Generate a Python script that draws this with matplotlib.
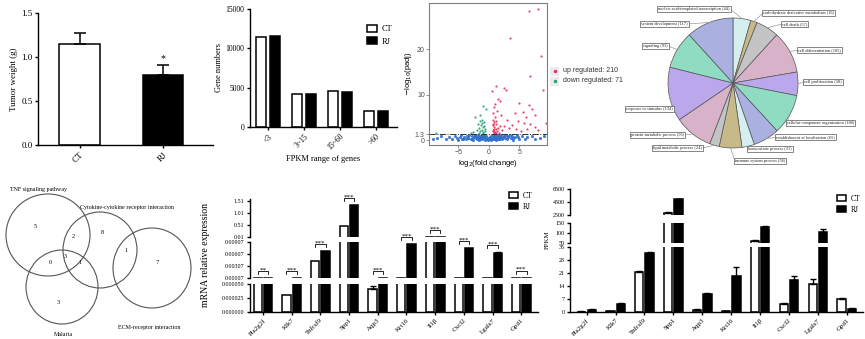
import matplotlib
matplotlib.use('Agg')

import matplotlib.pyplot as plt
from matplotlib.patches import Ellipse, Rectangle
import numpy as np

# ==========================================
# DATA
# ==========================================
tumor_groups = ["CT", "RJ"]
tumor_weight = [1.15, 0.80]
tumor_err = [0.12, 0.11]

fpkm_ranges = ["<3", "3~15", "15~60", ">60"]
genes_ct = [11400, 4250, 4600, 2000]
genes_rj = [11600, 4150, 4500, 2000]

up_fc = [6.5, 8.0, 3.5, 8.5, 6.8, 1.2, 2.5, 8.8, 0.5, 2.8, 1.5, 1.8, 1.0, 5.0, 6.5, 0.8,
         1.3, 4.2, 5.5, 7.0, 7.5, 6.0, 3.0, 2.0, 4.8, 5.8, 6.8, 3.8, 2.5, 7.5, 8.0, 4.5,
         5.2, 1.0, 0.7, 0.9, 1.1, 0.6, 0.8, 1.2, 0.7, 1.4, 0.9, 1.6, 2.2, 1.8, 0.6, 3.3,
         6.3, 9.3, 0.8, 1.0, 0.6, 1.2, 0.9, 0.7, 1.1, 1.5]
up_p = [28.5, 28.8, 22.5, 18.5, 14.0, 12.0, 11.5, 11.0, 10.7, 11.0, 9.0, 8.5, 8.0, 8.2, 7.8, 7.2,
        6.5, 6.0, 6.2, 6.8, 5.5, 5.0, 4.5, 5.5, 4.2, 3.8, 3.5, 3.2, 3.0, 2.8, 2.2, 2.5,
        2.0, 5.0, 4.5, 4.0, 3.5, 3.2, 2.8, 2.5, 2.2, 2.0, 1.8, 1.6, 2.2, 3.0, 6.0, 2.6,
        2.4, 3.8, 1.5, 1.7, 1.9, 1.6, 2.4, 3.6, 4.3, 2.7]
down_fc = [-1.0, -0.5, -1.5, -2.2, -1.2, -0.8, -1.8, -1.3, -0.9, -1.6, -1.1, -0.7, -2.0,
           -1.4, -0.9, -1.7, -2.6, -3.0, -8.7, -1.2, -0.8, -1.5, -1.0, -0.6]
down_p = [7.5, 6.8, 5.5, 5.0, 4.5, 4.0, 3.5, 3.2, 2.8, 2.6, 2.3, 2.0, 2.2,
          1.9, 1.7, 1.6, 1.8, 1.6, 1.6, 3.8, 3.0, 4.2, 1.5, 2.5]
ns_fc = [-9.2, -8.5, -7.8, -7.0, -6.5, -6.0, -5.5, -5.2, -5.0, -4.7, -4.5, -4.2, -4.0, -3.8,
         -3.6, -3.4, -3.2, -3.0, -2.8, -2.6, -2.5, -2.3, -2.1, -2.0, -1.9, -1.8, -1.7, -1.6,
         -1.5, -1.4, -1.3, -1.2, -1.1, -1.0, -0.9, -0.8, -0.7, -0.6, -0.5, -0.4, -0.3, -0.2,
         -0.1, 0.1, 0.2, 0.3, 0.4, 0.5, 0.6, 0.7, 0.8, 0.9, 1.0, 1.1, 1.2, 1.3, 1.4, 1.5,
         1.6, 1.7, 1.8, 1.9, 2.0, 2.2, 2.4, 2.6, 2.8, 3.0, 3.2, 3.4, 3.6, 3.8, 4.0, 4.3,
         4.6, 5.0, 5.4, 5.9, 6.3, 7.0, 7.6, 8.3, 9.0, -3.5, -2.7, -2.2, -1.5, -0.9, 0.9,
         1.6, 2.3, 3.1, 3.9, -4.4, 4.8]
ns_p = [0.2, 0.4, 0.9, 0.3, 0.6, 0.2, 0.8, 0.4, 0.1, 0.6, 1.0, 0.3, 0.7, 0.2,
        0.9, 0.5, 1.1, 0.3, 0.8, 0.1, 0.6, 1.0, 0.4, 0.2, 0.7, 1.2, 0.5, 0.1,
        0.9, 0.3, 0.6, 1.1, 0.2, 0.8, 0.4, 1.0, 0.1, 0.6, 0.3, 0.9, 0.2, 0.5,
        0.1, 0.2, 0.6, 0.1, 0.9, 0.3, 1.1, 0.5, 0.2, 0.8, 0.4, 1.0, 0.1, 0.6, 0.3, 1.2,
        0.7, 0.2, 0.9, 0.4, 1.1, 0.3, 0.8, 0.5, 1.0, 0.2, 0.7, 1.1, 0.4, 0.9, 0.1, 0.6,
        1.0, 0.3, 0.8, 0.2, 0.6, 0.9, 0.3, 0.5, 0.8, 0.5, 0.3, 0.9, 0.5, 0.7, 0.5,
        0.2, 0.6, 0.9, 0.4, 0.2, 0.7]
volcano_labels = ["up regulated: 210", "down regulated: 71"]

go_terms = ["nucleic acid-templated transcription", "carbohydrate derivative metabolism",
            "cell death", "cell differentiation", "cell proliferation",
            "cellular component organization", "establishment of localization",
            "homeostatic process", "immune system process", "lipid metabolic process",
            "protein metabolic process", "response to stimulus", "signaling",
            "system development"]
go_counts = [44, 16, 57, 105, 58, 100, 65, 31, 56, 24, 96, 134, 93, 117]

venn_sets = ["TNF signaling pathway", "Cytokine-cytokine receptor interaction",
             "Malaria", "ECM-receptor interaction"]
venn_counts = [5, 2, 8, 3, 0, 1, 1, 7, 3]

genes = ["Pla2g2f", "Klk7", "Tnfrsf9", "Spp1", "Aqp3", "Krt16", "Il1β", "Cxcl2", "Lgals7", "Gpd1"]
qpcr_ct = [0.00008, 0.000031, 0.0043, 0.47, 0.000041, 0.00008, 0.015, 0.00011, 0.00016, 0.00018]
qpcr_rj = [0.00011, 0.00011, 0.0068, 1.34, 0.00011, 0.0086, 0.015, 0.0076, 0.0063, 0.00015]
qpcr_ct_err = [0.0, 0.0, 0.0, 0.0, 0.000005, 0.0, 0.0, 0.0, 0.0, 0.0]
qpcr_rj_err = [0.0, 0.0, 0.0, 0.0, 0.0, 0.0, 0.0, 0.0, 0.0003, 0.0]
qpcr_sig = ["**", "***", "***", "***", "***", "***", "***", "***", "***", "***"]

fpkm_ct = [0.2, 0.3, 21.5, 2800, 1.2, 0.5, 60, 4.5, 15.0, 6.8]
fpkm_rj = [1.2, 4.5, 31.8, 4900, 9.5, 19.5, 130, 17.0, 105, 1.8]
fpkm_ct_err = [0.1, 0.05, 0.8, 100, 0.2, 0.1, 4, 0.3, 2.8, 1.0]
fpkm_rj_err = [0.2, 0.4, 0.6, 100, 0.7, 5.0, 7, 2.5, 15, 0.2]

# ==========================================
# FIGUR
# ==========================================
W, H = 865, 339
plt.rcParams['font.family'] = ['Liberation Serif', 'DejaVu Serif']
plt.rcParams['axes.linewidth'] = 1.0
plt.rcParams['xtick.major.width'] = 1.0
plt.rcParams['ytick.major.width'] = 1.0
plt.rcParams['xtick.major.size'] = 2.5
plt.rcParams['ytick.major.size'] = 2.5

fig = plt.figure(figsize=(W / 100, H / 100), dpi=100)


def px_axes(l, t, r, b):
    return fig.add_axes([l / W, 1 - b / H, (r - l) / W, (b - t) / H])


def clean(ax):
    ax.spines['top'].set_visible(False)
    ax.spines['right'].set_visible(False)
    ax.tick_params(pad=1.5)


def ftext(x, y, s, **kw):
    fig.text(x / W, 1 - y / H, s, **kw)


BAR = dict(edgecolor='black', linewidth=1.1)
SANS = ['Liberation Sans', 'DejaVu Sans']

# ---- Tumor weight ----
ax = px_axes(38, 13, 213, 145)
xa = np.arange(len(tumor_groups))
ax.bar(xa, tumor_weight, 0.49, color=['white', 'black'], **BAR)
ax.errorbar(xa, tumor_weight, yerr=[[0, 0], tumor_err], fmt='none', ecolor='black',
            elinewidth=1.1, capsize=4.3, capthick=1.1)
ax.text(1, tumor_weight[1] + tumor_err[1] + 0.02, "*", ha='center', va='bottom', fontsize=7)
ax.set_xlim(-0.5, 1.6)
ax.set_ylim(0, 1.5)
ax.set_yticks([0, 0.5, 1.0, 1.5])
ax.set_yticklabels(["0.0", "0.5", "1.0", "1.5"], fontsize=6.5)
ax.set_xticks(xa)
ax.set_xticklabels(tumor_groups, fontsize=6.5, rotation=45, ha='right', rotation_mode='anchor')
ax.set_ylabel("Tumor weight (g)", fontsize=6.5, labelpad=2)
clean(ax)

# ---- Gene numbers ----
ax = px_axes(250, 9, 397, 127)
xg = np.arange(len(fpkm_ranges))
ax.bar(xg - 0.19, genes_ct, 0.29, color='white', **BAR, label="CT")
ax.bar(xg + 0.19, genes_rj, 0.29, color='black', **BAR, label="RJ")
ax.set_xlim(-0.5, 3.58)
ax.set_ylim(0, 15000)
ax.set_yticks([0, 5000, 10000, 15000])
ax.tick_params(axis='y', labelsize=5.5)
ax.set_xticks(xg)
ax.set_xticklabels(fpkm_ranges, fontsize=5.5, rotation=45, ha='right', rotation_mode='anchor')
ax.set_ylabel("Gene numbers", fontsize=6, labelpad=2)
ax.set_xlabel("FPKM range of genes", fontsize=6, labelpad=2)
ax.legend(loc='upper right', bbox_to_anchor=(1.02, 0.93), frameon=False, fontsize=6,
          handlelength=1.2, handleheight=0.9, handletextpad=0.6, labelspacing=0.5)
clean(ax)

# ---- Volcano ----
ax = px_axes(429, 3, 547, 145)
ax.scatter(ns_fc, ns_p, s=5, color='#2f6fd0', linewidths=0, alpha=0.9)
ax.scatter(down_fc, down_p, s=2.5, color='#2ca07a', linewidths=0, alpha=0.9)
ax.scatter(up_fc, up_p, s=2.5, color='#e8305a', linewidths=0, alpha=0.9)
ax.axhline(1.3, color='#333333', linestyle='-.', linewidth=0.7)
ax.set_xlim(-9.8, 9.5)
ax.set_ylim(-1.1, 30.2)
ax.set_xticks([-5, 0, 5])
ax.set_yticks([0, 1.3, 10, 20])
ax.set_yticklabels(["0", "1.3", "10", "20"])
for s in ax.spines.values():
    s.set_color('#7f7f7f')
    s.set_linewidth(0.8)
ax.tick_params(colors='#7f7f7f', labelcolor='#4d4d4d', labelsize=5, length=2, width=0.6, pad=1)
for lab in ax.get_xticklabels() + ax.get_yticklabels():
    lab.set_family(SANS)
ax.set_ylabel(r"$-$log$_{10}$(padj)", fontsize=5.5, family=SANS, labelpad=1)
ax.set_xlabel(r"log$_2$(fold change)", fontsize=5.5, family=SANS, labelpad=1)

# ---- Pie ----
pie_colors = ['#d5eeee', '#c8b98a', '#c4c4c4', '#d8b2c8', '#bba8ec', '#8fdcc3', '#aab0e0']
ax = px_axes(668, 18, 798, 148)
ax.pie(go_counts, colors=[pie_colors[i % 7] for i in range(len(go_counts))], startangle=90,
       counterclock=False, radius=1, wedgeprops=dict(edgecolor='#555555', linewidth=0.5))
ax.set_xlim(-1, 1)
ax.set_ylim(-1, 1)

# ---- Overlay (pixel coords) ----
ov = fig.add_axes([0, 0, 1, 1], zorder=10)
ov.set_xlim(0, W)
ov.set_ylim(H, 0)
ov.axis('off')
ov.patch.set_alpha(0)

# volcano legend
for i, (lab, col) in enumerate(zip(volcano_labels, ['#e8305a', '#2ca07a'])):
    y = 71 + i * 10
    ov.add_patch(Rectangle((550, y - 4.5), 9, 9, color='#ebebeb', lw=0))
    ov.plot(554.5, y, 'o', ms=1.5, color=col)
    ov.text(563, y, lab, fontsize=5, va='center', ha='left', color='#333333', family=SANS)

# pie labels
cx, cy, r = 733, 83, 65
label_pos = [(730, 9, 'right'), (763, 13, 'left'), (782, 24, 'left'), (798, 50, 'left'),
             (804, 82, 'left'), (787, 123, 'left'), (776, 137, 'left'), (748, 149, 'left'),
             (735, 161, 'left'), (702, 148, 'right'), (684, 135, 'right'),
             (673, 109, 'right'), (668, 46, 'right'), (688, 24, 'right')]
total = sum(go_counts)
cum = 0
for term, n, (lx, ly, side) in zip(go_terms, go_counts, label_pos):
    mid = (cum + n / 2) / total
    cum += n
    th = np.deg2rad(90 - mid * 360)
    ex, ey = cx + r * np.cos(th), cy - r * np.sin(th)
    ov.plot([ex, lx], [ey, ly], color='#999999', lw=0.5)
    ov.text(lx, ly, f"{term} ({n})", fontsize=3.2, ha=side, va='center', color='#222222',
            bbox=dict(boxstyle='square,pad=0.25', fc='white', ec='#555555', lw=0.5))

# venn
circles = [(48, 235, 42, 41), (100, 250, 37, 38), (62, 287, 36, 37), (152, 268, 39, 40)]
for (x, y, rx, ry) in circles:
    ov.add_patch(Ellipse((x, y), 2 * rx, 2 * ry, fill=False, ec='#555555', lw=0.8))
venn_num_pos = [(35, 227), (73, 236), (102, 232), (65, 256), (50, 263), (80, 263),
                (126, 250), (157, 263), (58, 302)]
for n, (x, y) in zip(venn_counts, venn_num_pos):
    ov.text(x, y, str(n), fontsize=4.5, ha='center', va='center')
venn_lab_pos = [(10, 189, 'left'), (80, 207, 'left'), (63, 334, 'center'), (118, 327, 'left')]
for lab, (x, y, ha) in zip(venn_sets, venn_lab_pos):
    ov.text(x, y, lab, fontsize=4.3, ha=ha, va='center')


# ---- Broken bar panels ----
def broken_panel(left, right, segs, xlim, ct, rj, ct_err, rj_err, fs):
    axes = []
    xs = np.arange(len(genes))
    ct = np.array(ct, float)
    rj = np.array(rj, float)
    ct_err = np.array(ct_err, float)
    rj_err = np.array(rj_err, float)
    for i, (t, b, lim, ticks, tlabels) in enumerate(segs):
        a = px_axes(left, t, right, b)
        # upper segments: start bars well below the visible range so no edge shows
        base = 0 if i == len(segs) - 1 else lim[0] - (lim[1] - lim[0])
        for off, vals, errs, col, lab in [(-0.18, ct, ct_err, 'white', "CT"),
                                          (0.18, rj, rj_err, 'black', "RJ")]:
            show = vals > lim[0]
            a.bar(xs[show] + off, vals[show] - base, 0.29, bottom=base, color=col, **BAR,
                  label=lab)
            e = show & (errs > 0)
            if e.any():
                a.errorbar(xs[e] + off, vals[e], yerr=[np.zeros(e.sum()), errs[e]], fmt='none',
                           ecolor='black', elinewidth=1.0, capsize=2, capthick=1.0)
        a.set_xlim(*xlim)
        a.set_ylim(*lim)
        a.set_yticks(ticks)
        a.set_yticklabels(tlabels, fontsize=fs)
        a.patch.set_alpha(0)
        clean(a)
        if i < len(segs) - 1:
            a.spines['bottom'].set_visible(False)
            a.set_xticks([])
        else:
            a.set_xticks(xs)
            a.set_xticklabels(genes, fontsize=5, rotation=45, ha='right', rotation_mode='anchor')
        axes.append(a)
    return axes


q_axes = broken_panel(250, 538, [
    (199, 237, (0.01, 1.59), [0.01, 0.51, 1.01, 1.51], ["0.01", "0.51", "1.01", "1.51"]),
    (242, 278, (0.00007, 0.00907), [0.00007, 0.00307, 0.00607, 0.00907],
     ["0.00007", "0.00307", "0.00607", "0.00907"]),
    (284, 312, (0, 0.00005), [0, 0.000025, 0.00005], ["0.000000", "0.000025", "0.000050"]),
], (-0.45, 9.58), qpcr_ct, qpcr_rj, qpcr_ct_err, qpcr_rj_err, 4.3)
ftext(205, 255, "mRNA relative expression", fontsize=7, rotation=90, ha='center', va='center')

# significance brackets
for i, sig in enumerate(qpcr_sig):
    top = max(qpcr_ct[i] + qpcr_ct_err[i], qpcr_rj[i] + qpcr_rj_err[i])
    seg = q_axes[0] if top >= 0.01 else (q_axes[1] if top >= 0.00007 else q_axes[2])
    pts = seg.transData.transform([(i - 0.18, top), (i + 0.18, top)])
    (x0, yb), (x1, _) = ov.transData.inverted().transform(pts)
    yb -= 7
    ov.plot([x0, x0, x1, x1], [yb + 3, yb, yb, yb + 3], color='black', lw=0.6)
    ov.text((x0 + x1) / 2, yb + 1.5, sig, fontsize=5, ha='center', va='bottom')

q_axes[0].legend(loc='upper left', bbox_to_anchor=(505 / W, 1 - 188 / H),
                 bbox_transform=fig.transFigure, frameon=False, fontsize=5.5, handlelength=1.2,
                 handleheight=0.9, handletextpad=0.6, labelspacing=0.4, borderpad=0)

f_axes = broken_panel(570, 863, [
    (189, 215, (2500, 6500), [2500, 4500, 6500], ["2500", "4500", "6500"]),
    (223, 243, (50, 150), [50, 100, 150], ["50", "100", "150"]),
    (247, 312, (0, 35), [0, 7, 14, 21, 28, 35], ["0", "7", "14", "21", "28", "35"]),
], (-0.575, 9.56), fpkm_ct, fpkm_rj, fpkm_ct_err, fpkm_rj_err, 4.3)
ftext(547, 240, "FPKM", fontsize=5, rotation=90, ha='center', va='center')
f_axes[0].legend(loc='upper left', bbox_to_anchor=(833 / W, 1 - 191 / H),
                 bbox_transform=fig.transFigure, frameon=False, fontsize=5.5, handlelength=1.2,
                 handleheight=0.9, handletextpad=0.6, labelspacing=0.4, borderpad=0)

plt.savefig("out.png", dpi=100)
plt.close()
